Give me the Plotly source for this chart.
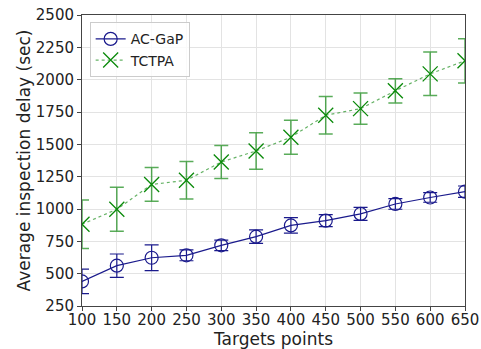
import plotly.graph_objects as go

targets = [100, 150, 200, 250, 300, 350, 400, 450, 500, 550, 600, 650]
acgap = [440, 562, 623, 642, 719, 786, 873, 910, 962, 1039, 1089, 1134]
acgap_err = [95, 90, 100, 42, 41, 52, 60, 47, 50, 41, 37, 44]
tctpa = [882, 998, 1190, 1222, 1363, 1449, 1555, 1725, 1776, 1914, 2045, 2146]
tctpa_err = [188, 170, 130, 145, 128, 141, 132, 145, 120, 94, 168, 171]
x_ticks = [100, 150, 200, 250, 300, 350, 400, 450, 500, 550, 600, 650]
y_ticks = [250, 500, 750, 1000, 1250, 1500, 1750, 2000, 2250, 2500]

fig = go.Figure()
fig.add_trace(go.Scatter(
    x=targets, y=acgap, name="AC-GaP", mode="lines+markers",
    line=dict(color="#1a1a8c", width=1.2),
    marker=dict(symbol="circle-open", size=13, color="#1a1a8c", line=dict(width=1.2)),
    error_y=dict(type="data", array=acgap_err, visible=True, color="#1a1a8c", thickness=1.2, width=7),
))
fig.add_trace(go.Scatter(
    x=targets, y=tctpa, name="TCTPA", mode="lines+markers",
    line=dict(color="rgba(0,128,0,0.6)", width=1.2, dash="dot"),
    marker=dict(symbol="x-thin-open", size=15, color="#0a8a0a", line=dict(width=1.3, color="#0a8a0a")),
    error_y=dict(type="data", array=tctpa_err, visible=True, color="rgba(0,128,0,0.65)", thickness=1.5, width=7),
))

fig.update_layout(
    width=481, height=349,
    margin=dict(l=82, r=16, t=15, b=43),
    paper_bgcolor="white", plot_bgcolor="white",
    font=dict(family="DejaVu Sans", size=15, color="#222"),
    showlegend=True,
    legend=dict(x=0.02, y=0.975, xanchor="left", yanchor="top",
                bordercolor="#cccccc", borderwidth=1, bgcolor="rgba(255,255,255,0.8)",
                font=dict(size=14)),
)
fig.update_xaxes(
    range=[100, 650], tickvals=x_ticks, ticktext=[str(v) for v in x_ticks],
    showgrid=True, gridcolor="#e3e3e3", gridwidth=1,
    showline=True, linecolor="#444", linewidth=1, mirror=True,
    ticks="outside", ticklen=4, tickcolor="#444", automargin=False,
    ticklabelstandoff=-4,
    title=dict(text="Targets points", font=dict(size=17), standoff=0),
    zeroline=False,
)
fig.update_yaxes(
    range=[250, 2500], tickvals=y_ticks, ticktext=[str(v) for v in y_ticks],
    showgrid=True, gridcolor="#e3e3e3", gridwidth=1,
    showline=True, linecolor="#444", linewidth=1, mirror=True,
    ticks="outside", ticklen=4, tickcolor="#444", automargin=False,
    title=dict(text="Average inspection delay (sec)", font=dict(size=17), standoff=0),
    zeroline=False,
)

fig.write_html("out.html")
